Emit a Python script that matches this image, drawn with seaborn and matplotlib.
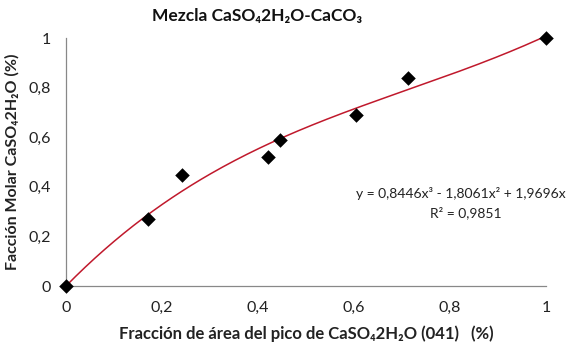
import numpy as np
import pandas as pd
import matplotlib
matplotlib.use("Agg")
import matplotlib.pyplot as plt
import seaborn as sns

area_fraction = [0.0, 0.171, 0.242, 0.421, 0.446, 0.604, 0.7125, 1.0]
molar_fraction = [0.0, 0.27, 0.448, 0.52, 0.589, 0.69, 0.839, 1.0]
trend_coeffs = [0.8446, -1.8061, 1.9696, 0.0]  # x^3, x^2, x, const
r_squared = 0.9851
tick_values = [0, 0.2, 0.4, 0.6, 0.8, 1.0]
tick_labels = ["0", "0,2", "0,4", "0,6", "0,8", "1"]

sns.set_style("white")
plt.rcParams['font.family'] = ['Lato', 'DejaVu Sans']

fig = plt.figure(figsize=(5.72, 3.49), dpi=100)
ax = fig.add_axes([66/572, 1-286/349, 480/572, 248/349])

xs = np.linspace(0, 1, 200)
trend = pd.DataFrame({"x": xs, "y": np.polyval(trend_coeffs, xs)})
sns.lineplot(data=trend, x="x", y="y", ax=ax, color="#C0192C", linewidth=1.1)

df = pd.DataFrame({"x": area_fraction, "y": molar_fraction})
sns.scatterplot(data=df, x="x", y="y", ax=ax, marker="D", s=55, color="black",
                edgecolor="black", linewidth=0, zorder=5, clip_on=False)

ax.set_xlim(0, 1)
ax.set_ylim(0, 1)
ax.set_xticks(tick_values)
ax.set_xticklabels(tick_labels)
ax.set_yticks(tick_values)
ax.set_yticklabels(tick_labels)
for s in ["top", "right"]:
    ax.spines[s].set_visible(False)
for s in ["left", "bottom"]:
    ax.spines[s].set_color("#888888")
    ax.spines[s].set_linewidth(0.9)
ax.tick_params(axis="both", direction="out", length=5, width=0.9, color="#888888",
               labelsize=11.5, labelcolor="#222222", pad=6)

ax.set_xlabel("Fracción de área del pico de CaSO₄2H₂O (041)   (%)", fontsize=12,
              fontweight="bold", labelpad=7, color="#222222")
ax.set_ylabel("Facción Molar CaSO₄2H₂O (%)", fontsize=11.5, fontweight="bold",
              labelpad=6, color="#222222")
fig.text(257/572, 0.955, "Mezcla CaSO₄2H₂O-CaCO₃", ha="center", va="center",
         fontsize=12.5, fontweight="bold", color="#111111")

eq = "y = {:.4f}x³ - {:.4f}x² + {:.4f}x".format(trend_coeffs[0], -trend_coeffs[1], trend_coeffs[2]).replace(".", ",")
fig.text(566/572, 1-193/349, eq, ha="right", va="center",
         fontsize=10, color="#222222")
fig.text(466/572, 1-213/349, "R² = {:.4f}".format(r_squared).replace(".", ","),
         ha="center", va="center", fontsize=10, color="#222222")

fig.savefig("out.png", dpi=100)
